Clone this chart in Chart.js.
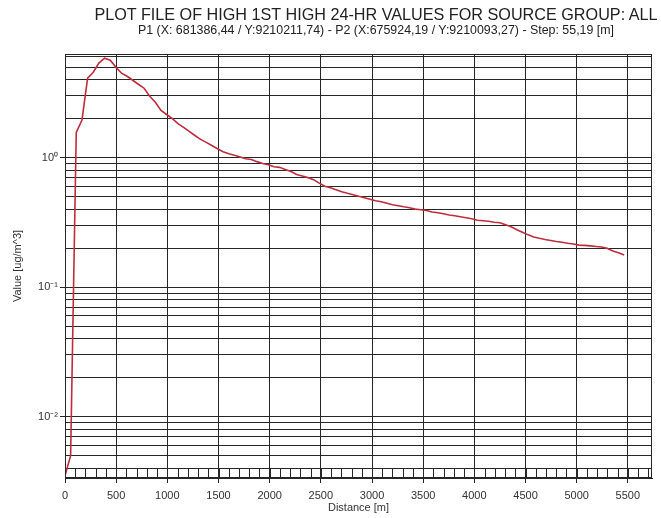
<!DOCTYPE html>
<html>
<head>
<meta charset="utf-8">
<script src="https://cdn.jsdelivr.net/npm/chart.js@4/dist/chart.umd.min.js"></script>
<style>
  html, body { margin: 0; padding: 0; background: #fff; }
  #wrap { position: relative; width: 661px; height: 518px; }
  .ttl { position: absolute; left: 376px; transform: translateX(-50%); white-space: nowrap;
         font-family: "Liberation Sans", Arial, sans-serif; color: #222; }
  #t1 { top: 5px; font-size: 16.2px; }
  #t2 { top: 23px; font-size: 12.4px; }
</style>
</head>
<body>
<div id="wrap">
  <canvas id="chart" width="661" height="518"></canvas>
  <div class="ttl" id="t1">PLOT FILE OF HIGH 1ST HIGH 24-HR VALUES FOR SOURCE GROUP: ALL</div>
  <div class="ttl" id="t2">P1 (X: 681386,44 / Y:9210211,74) - P2 (X:675924,19 / Y:9210093,27) - Step: 55,19 [m]</div>
</div>
<script>
/* distance along the profile [m] */
const distances = [
  0, 55, 110, 166, 221, 276, 331, 386, 442, 497,
  552, 607, 662, 717, 773, 828, 883, 938, 993, 1049,
  1104, 1159, 1214, 1269, 1325, 1380, 1435, 1490, 1545, 1601,
  1656, 1711, 1766, 1821, 1876, 1932, 1987, 2042, 2097, 2152,
  2208, 2263, 2318, 2373, 2428, 2484, 2539, 2594, 2649, 2704,
  2760, 2815, 2870, 2925, 2980, 3035, 3091, 3146, 3201, 3256,
  3311, 3367, 3422, 3477, 3532, 3587, 3643, 3698, 3753, 3808,
  3863, 3918, 3974, 4029, 4084, 4139, 4194, 4250, 4305, 4360,
  4415, 4470, 4526, 4581, 4636, 4691, 4746, 4802, 4857, 4912,
  4967, 5022, 5077, 5133, 5188, 5243, 5298, 5353, 5409, 5464
];

/* concentration [ug/m^3] */
const values = [
  0.0035, 0.005, 1.56, 1.95, 4.1, 4.56, 5.36, 5.85, 5.65, 4.99,
  4.48, 4.24, 3.95, 3.68, 3.43, 2.97, 2.67, 2.31, 2.15, 2.0,
  1.83, 1.71, 1.59, 1.48, 1.38, 1.31, 1.24, 1.17, 1.11, 1.07,
  1.04, 1.01, 0.98, 0.965, 0.93, 0.90, 0.88, 0.85, 0.84, 0.81,
  0.78, 0.74, 0.72, 0.70, 0.675, 0.635, 0.60, 0.585, 0.565, 0.545,
  0.53, 0.517, 0.503, 0.49, 0.477, 0.464, 0.456, 0.444, 0.432, 0.425,
  0.417, 0.41, 0.40, 0.395, 0.39, 0.38, 0.375, 0.368, 0.36, 0.355,
  0.349, 0.343, 0.337, 0.328, 0.325, 0.322, 0.317, 0.314, 0.303, 0.292,
  0.277, 0.265, 0.253, 0.244, 0.238, 0.233, 0.229, 0.225, 0.222, 0.218,
  0.215, 0.211, 0.21, 0.208, 0.206, 0.204, 0.199, 0.19, 0.184, 0.177
];

const xTicks = [0, 500, 1000, 1500, 2000, 2500, 3000, 3500, 4000, 4500, 5000, 5500];
const xMinorStep = 100;
const decades = [0.001, 0.01, 0.1, 1];
const decadeLabels = { "0.01": "10\u207B\u00B2", "0.1": "10\u207B\u00B9", "1": "10\u2070" };
const yMin = 0.00336, yMax = 6.3;
const xMax = 5736;

const font = "'Liberation Sans', Arial, sans-serif";
const gridCol = "#262626";

/* all 1..9 multiples inside the range -> log grid */
const yTicks = [];
decades.forEach(d => {
  for (let k = 1; k <= 9; k++) {
    const v = +(k * d).toPrecision(3);
    if (v >= yMin && v <= yMax) yTicks.push(v);
  }
});

const isDecade = v => decadeLabels[String(v)] !== undefined;

/* frame + small 100 m marks along bottom */
const framePlugin = {
  id: "frame",
  afterDraw(chart) {
    const { ctx, chartArea: a } = chart;
    const xs = chart.scales.x;
    ctx.save();
    ctx.strokeStyle = gridCol;
    ctx.lineWidth = 1;
    ctx.strokeRect(a.left + 0.5, a.top + 0.5, a.right - a.left - 1, a.bottom - a.top - 1);
    ctx.beginPath();
    for (let v = xMinorStep; v < xMax; v += xMinorStep) {
      const px = Math.round(xs.getPixelForValue(v)) + 0.5;
      ctx.moveTo(px, a.bottom);
      ctx.lineTo(px, a.bottom - 9);
    }
    ctx.stroke();
    ctx.restore();
  }
};

new Chart(document.getElementById("chart"), {
  type: "line",
  data: {
    datasets: [{
      data: distances.map((d, i) => ({ x: d, y: values[i] })),
      borderColor: "rgb(190,45,60)",
      borderWidth: 1.6,
      pointRadius: 0,
      tension: 0
    }]
  },
  options: {
    responsive: false,
    animation: false,
    layout: { padding: { top: 54, right: 9, left: 0, bottom: 0 } },
    plugins: { legend: { display: false }, tooltip: { enabled: false } },
    scales: {
      x: {
        type: "linear",
        min: 0,
        max: xMax,
        afterBuildTicks: s => { s.ticks = xTicks.map(v => ({ value: v })); },
        afterFit: s => { s.height = 40; },
        grid: { color: gridCol, lineWidth: 1, tickLength: 5 },
        border: { color: gridCol },
        ticks: { autoSkip: false, maxRotation: 0, color: "#333", padding: 6,
                 font: { family: font, size: 11 },
                 callback: v => String(v) },
        title: { display: true, text: "Distance [m]", color: "#333",
                 font: { family: font, size: 11 }, padding: { top: 0, bottom: 3 } }
      },
      y: {
        type: "logarithmic",
        min: yMin,
        max: yMax,
        afterBuildTicks: s => { s.ticks = yTicks.map(v => ({ value: v })); },
        afterFit: s => { s.width = 65; },
        grid: {
          color: gridCol, lineWidth: 1, tickLength: 5,
          tickColor: c => (c.tick && isDecade(c.tick.value)) ? gridCol : "rgba(0,0,0,0)"
        },
        border: { color: gridCol },
        ticks: {
          autoSkip: false, color: "#333", padding: 2,
          font: { family: font, size: 11 },
          callback: v => decadeLabels[String(v)] || ""
        },
        title: { display: true, text: "Value [ug/m^3]", color: "#333",
                 font: { family: font, size: 11 }, padding: { top: 11, bottom: 0 } }
      }
    }
  },
  plugins: [framePlugin]
});
</script>
</body>
</html>
